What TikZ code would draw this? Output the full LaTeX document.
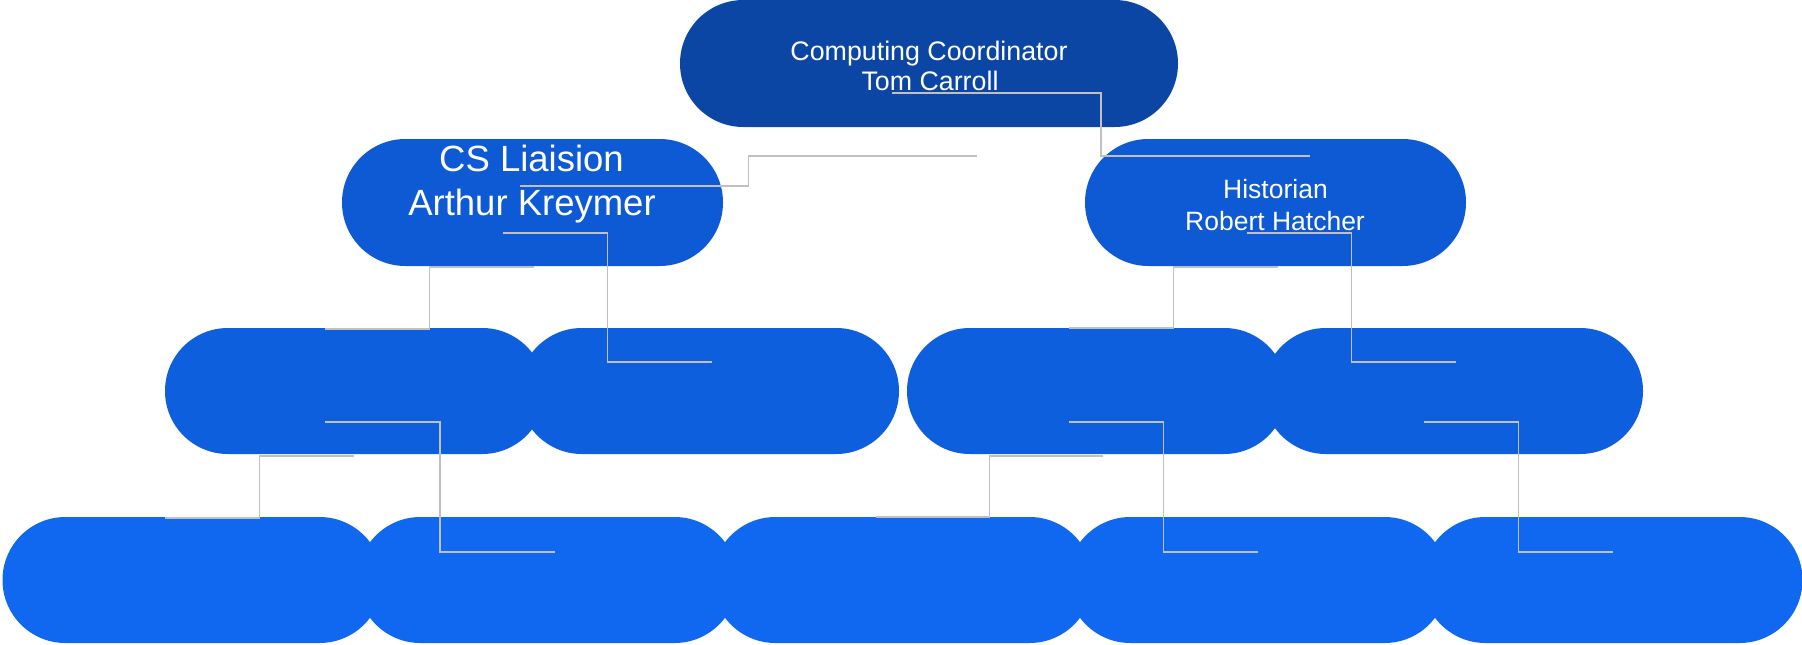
\documentclass[tikz,border=0pt]{standalone}
\usepackage{fontspec}
\setmainfont{Liberation Sans}
\usetikzlibrary{calc}
\definecolor{cRoot}{RGB}{11,70,165}
\definecolor{cLvlA}{RGB}{14,90,212}
\definecolor{cLvlB}{RGB}{14,95,222}
\definecolor{cLvlC}{RGB}{16,104,240}
\definecolor{cLine}{RGB}{192,192,192}
\begin{document}
\begin{tikzpicture}[x=1pt,y=-1pt,
  pill/.style={inner sep=0pt,outer sep=0pt,minimum height=126pt,rounded corners=62.9pt,draw=none},
  txt/.style={text=white,inner sep=0pt,outer sep=0pt,anchor=base},
  conn/.style={draw=cLine,line width=1.6pt},
  hvh/.style={to path={-| ($(\tikztostart)!.5!(\tikztotarget)$) |- (\tikztotarget)}}]
\useasboundingbox (0,0) rectangle (1802,645);
% level 0
\node[pill,fill=cRoot,minimum width=498pt,minimum height=127pt,rounded corners=63.4pt] (root) at (929,63.5) {};
% level 1
\node[pill,fill=cLvlA,minimum width=381pt,minimum height=127pt,rounded corners=63.4pt] (cs) at (532.5,202.5) {};
\node[pill,fill=cLvlA,minimum width=381pt,minimum height=127pt,rounded corners=63.4pt] (hist) at (1275.5,202.5) {};
% level 2
\node[pill,fill=cLvlB,minimum width=380pt] (la) at (355,391) {};
\node[pill,fill=cLvlB,minimum width=380pt] (lb) at (709,391) {};
\node[pill,fill=cLvlB,minimum width=380pt] (lc) at (1097,391) {};
\node[pill,fill=cLvlB,minimum width=380pt] (ld) at (1453,391) {};
% level 3
\node[pill,fill=cLvlC,minimum width=380pt] (ba) at (192.5,580) {};
\node[pill,fill=cLvlC,minimum width=380pt] (bb) at (547.5,580) {};
\node[pill,fill=cLvlC,minimum width=380pt] (bc) at (902.5,580) {};
\node[pill,fill=cLvlC,minimum width=380pt] (bd) at (1257.5,580) {};
\node[pill,fill=cLvlC,minimum width=380pt] (be) at (1612.5,580) {};
% texts
\node[txt,font=\fontsize{26.8}{30}\selectfont] (rootT1) at (929,60) {Computing Coordinator};
\node[txt,font=\fontsize{26.8}{30}\selectfont] (rootT2) at (930,90.7) {Tom Carroll};
\node[txt,font=\fontsize{36.5}{40}\selectfont] (csT1) at (531.5,171) {CS Liaision};
\node[txt,font=\fontsize{36.5}{40}\selectfont] (csT2) at (532,215) {Arthur Kreymer};
\node[txt,font=\fontsize{26.5}{30}\selectfont] (histT1) at (1275.5,198.3) {Historian};
\node[txt,font=\fontsize{26.5}{30}\selectfont] (histT2) at (1275,230) {Robert Hatcher};
% connector end points
\coordinate (p1a) at (892,93);   \coordinate (p1b) at (1310,156);
\coordinate (p2a) at (520,186);  \coordinate (p2b) at (977,156);
\coordinate (p3a) at (503,233);  \coordinate (p3b) at (712,362);
\coordinate (p4a) at (534,267);  \coordinate (p4b) at (325,329);
\coordinate (p5a) at (1247,233); \coordinate (p5b) at (1456,362);
\coordinate (p6a) at (1278,267); \coordinate (p6b) at (1069,328);
\coordinate (p7a) at (325,422);  \coordinate (p7b) at (555,552);
\coordinate (p8a) at (354,456);  \coordinate (p8b) at (164.6,518);
\coordinate (p9a) at (1069,422); \coordinate (p9b) at (1258,552);
\coordinate (p10a) at (1103,456); \coordinate (p10b) at (876,517);
\coordinate (p11a) at (1424,422); \coordinate (p11b) at (1613,552);
\foreach \i in {1,...,11} {\draw[conn] (p\i a) to[hvh] (p\i b);}
\end{tikzpicture}
\end{document}
